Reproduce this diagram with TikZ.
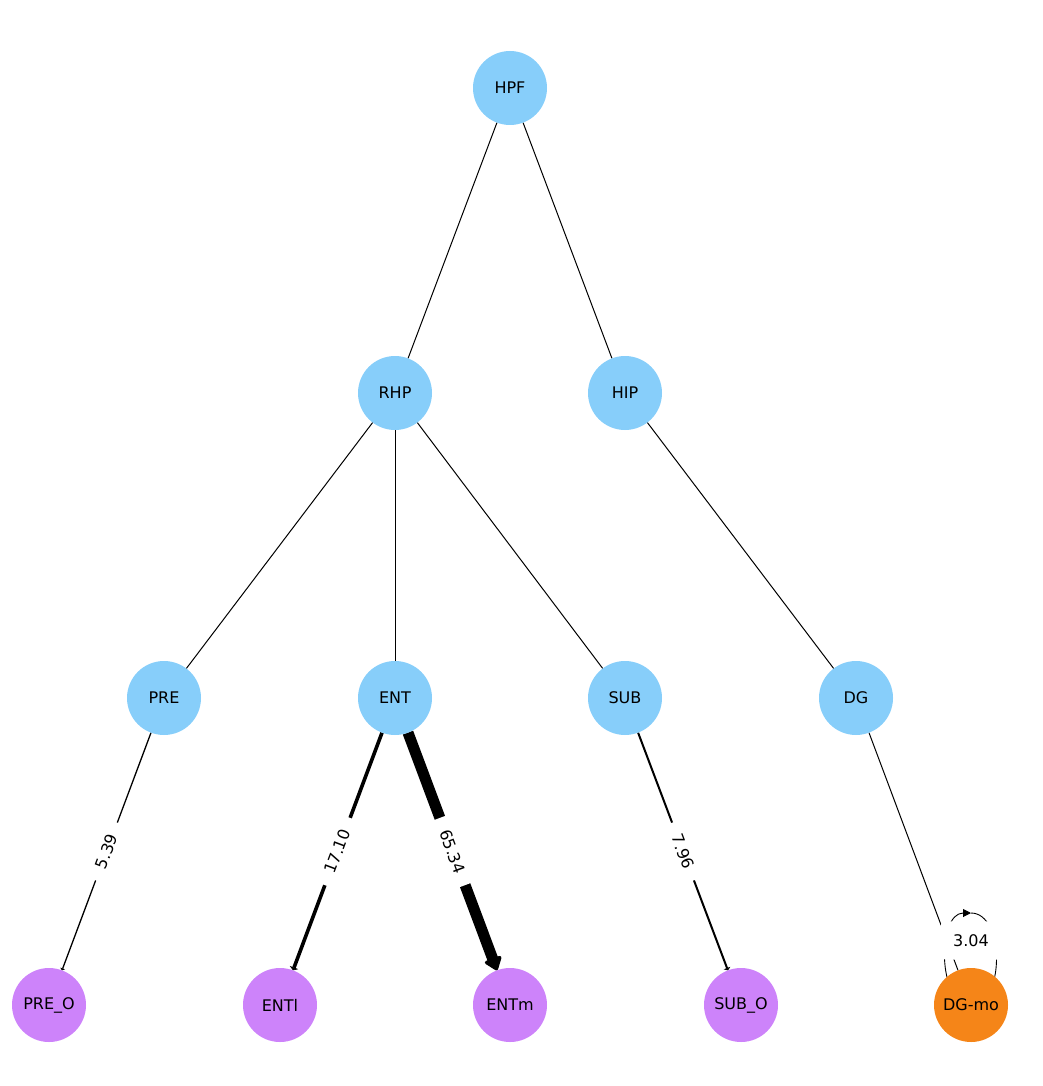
\documentclass[tikz,border=0pt]{standalone}
\usepackage{fontspec}
\setmainfont{DejaVu Sans}
\usetikzlibrary{arrows.meta,backgrounds,calc}
\definecolor{nblue}{RGB}{135,206,250}
\definecolor{npurple}{RGB}{205,131,250}
\definecolor{norange}{RGB}{245,133,24}
\begin{document}
\begin{tikzpicture}[x=1pt,y=-1pt,
  vtx/.style={circle,minimum size=74pt,inner sep=0pt,outer sep=0pt,font=\fontsize{16}{19}\selectfont},
  bnode/.style={vtx,fill=nblue},
  pnode/.style={vtx,fill=npurple},
  onode/.style={vtx,fill=norange},
  plainedge/.style={line width=1pt,black},
  elabel/.style={fill=white,rounded corners=4pt,inner xsep=13pt,inner ysep=6pt,sloped,midway,font=\fontsize{16}{19}\selectfont},
  looplabel/.style={fill=white,rounded corners=5pt,inner xsep=13pt,inner ysep=13pt,font=\fontsize{16}{19}\selectfont}]
\useasboundingbox (0,0) rectangle (1043,1086);
% nodes
\node[bnode] (hpf) at (510,88) {HPF};
\node[bnode] (rhp) at (395,393) {RHP};
\node[bnode] (hip) at (625,393) {HIP};
\node[bnode] (pre) at (164,698) {PRE};
\node[bnode] (ent) at (395,698) {ENT};
\node[bnode] (sub) at (625,698) {SUB};
\node[bnode] (dg) at (856,698) {DG};
\node[pnode] (preo) at (49,1005) {PRE\_O};
\node[pnode] (entl) at (280,1005) {ENTl};
\node[pnode] (entm) at (510,1005) {ENTm};
\node[pnode] (subo) at (741,1005) {SUB\_O};
\node[onode] (dgmo) at (971,1005) {DG-mo};
\coordinate (looptop) at (971,913);
% edges
\begin{pgfonlayer}{background}
\draw[plainedge] (hpf) -- (rhp);
\draw[plainedge] (hpf) -- (hip);
\draw[plainedge] (rhp) -- (pre);
\draw[plainedge] (rhp) -- (ent);
\draw[plainedge] (rhp) -- (sub);
\draw[plainedge] (hip) -- (dg);
\draw[line width=1.3pt,-{Triangle[width=5pt,length=2pt]}] (pre) -- node[elabel] (l1) {5.39} (preo);
\draw[line width=3.6pt,-{Triangle[width=9pt,length=3pt]}] (ent) -- node[elabel] (l2) {17.10} (entl);
\draw[line width=11pt,-{Triangle[width=20pt,length=14pt,round,line width=9pt]}] (ent) -- node[elabel] (l3) {65.34} (entm);
\draw[line width=2pt,-{Triangle[width=7pt,length=2.5pt]}] (sub) -- node[elabel] (l4) {7.96} (subo);
\draw[plainedge] (dg) -- (dgmo);
\draw[line width=0.9pt,-{Triangle[width=8pt,length=8pt]}] (looptop) .. controls +(34,0) and ($(dgmo.center)+(34,0)$) .. (dgmo.center) .. controls +(-34,0) and ($(looptop)+(-34,0)$) .. (looptop);
\path (dgmo.center) ++(0,-64.5) node[looplabel] (l5) {3.04};
\end{pgfonlayer}
\end{tikzpicture}
\end{document}
